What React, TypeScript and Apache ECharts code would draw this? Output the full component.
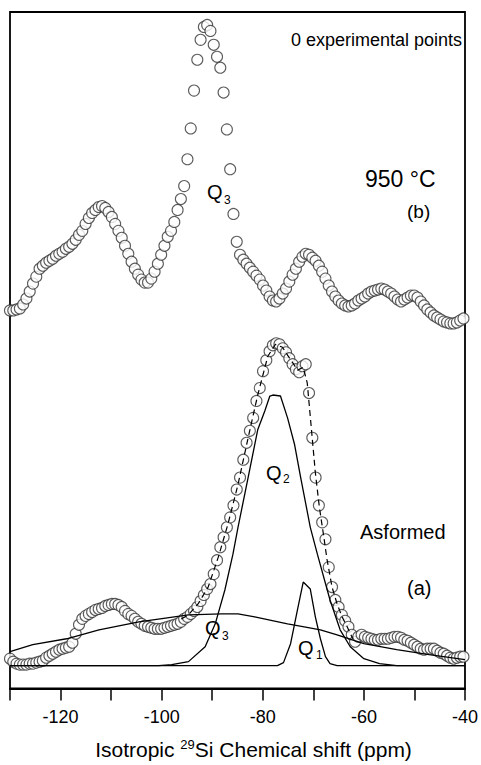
import { useEffect, useRef } from 'react';
import * as echarts from 'echarts';

// Chemical-shift grid of the measured points (ppm)
const scanStart = -130;
const scanStep = 0.65;

// 950 °C spectrum (b), arbitrary intensity units
const c950Counts = [
  380, 380, 381, 382, 386, 392, 399, 407, 414, 422,
  425, 428, 430, 432, 435, 437, 439, 442, 444, 447,
  451, 456, 460, 467, 473, 478, 481, 484, 485, 483,
  479, 474, 467, 460, 453, 445, 437, 429, 422, 416,
  411, 408, 408, 412, 419, 427, 436, 445, 454, 460,
  469, 481, 492, 505, 532, 563, 601, 632, 652, 665,
  667, 661, 647, 635, 624, 599, 562, 522, 477, 449,
  436, 431, 427, 423, 419, 415, 411, 405, 400, 394,
  390, 389, 392, 397, 402, 409, 416, 422, 429, 434,
  437, 436, 433, 430, 425, 419, 412, 405, 399, 394,
  390, 387, 385, 384, 385, 387, 390, 392, 394, 397,
  399, 400, 401, 402, 401, 399, 397, 394, 391, 389,
  391, 393, 395, 395, 393, 389, 385, 381, 378, 375,
  373, 371, 369, 368, 367, 367, 368, 370, 372,
];

// As-formed spectrum (a)
const asformedCounts = [
  30, 27, 25, 24, 24, 24, 25, 25, 26, 27,
  28, 31, 33, 35, 37, 39, 40, 41, 42, 46,
  55, 64, 70, 73, 75, 77, 79, 80, 81, 83,
  84, 85, 85, 84, 82, 78, 75, 73, 70, 67,
  65, 63, 62, 61, 60, 60, 60, 61, 62, 63,
  64, 65, 67, 70, 72, 75, 78, 82, 88, 94,
  100, 105, 115, 129, 142, 152, 162, 172, 184, 200,
  212, 230, 247, 259, 272, 289, 302, 319, 330, 339,
  345, 347, 346, 342, 338, 332, 326, 321, 318, 324,
  326, 297, 252, 212, 184, 167, 150, 122, 102, 89,
  82, 74, 68, 62, 54, 47, 52, 54, 52, 51,
  50, 49, 49, 50, 50, 50, 51, 52, 52, 51,
  49, 48, 46, 44, 42, 40, 39, 40, 40, 40,
  38, 36, 35, 33, 31, 30, 31, 32, 32,
];

// Total fit (dashed)
const fitShift = [-96.1, -94.7, -92.8, -90.8, -88.8, -86.9, -84.9, -82.9, -81.0, -79.0, -77.5, -76.1, -74.7, -73.1, -72.0, -71.2, -70.4, -69.6, -68.8, -68.0, -67.3, -66.3, -65.3, -64.3, -63.3, -62.2];
const fitValues = [70, 74, 85, 102, 132, 165, 205, 252, 295, 334, 346, 343, 332, 320, 323, 307, 262, 217, 182, 155, 130, 102, 85, 72, 62, 50];

// Q3 component (broad)
const q3Shift = [-130, -125.5, -118.8, -112.4, -104.5, -94.7, -88.2, -84.9, -81.6, -75.1, -71.8, -68.6, -65.3, -60.0, -53.5, -47.1, -40];
const q3Values = [37, 44, 50, 59, 67, 74, 75, 75, 72, 65, 62, 59, 54, 45, 39, 34, 29];

// Q2 component
const q2Shift = [-130, -100.6, -98.0, -94.7, -91.4, -89.4, -87.5, -85.9, -84.9, -82.9, -81.0, -79.6, -78.6, -78.0, -76.5, -75.1, -73.7, -72.5, -70.6, -69.2, -66.7, -64.7, -62.7, -60.0, -56.9, -53.5, -40];
const q2Values = [23, 23, 24, 27, 42, 65, 99, 135, 162, 212, 260, 279, 294, 295, 294, 272, 245, 212, 162, 135, 89, 59, 42, 30, 25, 23, 23];

// Q1 component
const q1Shift = [-130, -77.1, -75.9, -74.5, -73.1, -72.0, -70.6, -69.6, -68.6, -67.6, -66.7, -65.3, -40];
const q1Values = [23, 23, 26, 45, 80, 107, 100, 72, 50, 32, 25, 23, 23];

const FONT = '"Liberation Sans", Arial, Helvetica, sans-serif';

const pairs = (xs: number[], ys: number[]) => xs.map((x, i) => [x, ys[i]]);
const gridPairs = (ys: number[]) => ys.map((y, i) => [+(scanStart + scanStep * i).toFixed(2), y]);

const txt = (text: string, x: number, y: number, size: number, align = 'left') => ({
  type: 'text',
  x,
  y,
  silent: true,
  style: {
    text,
    x: 0,
    y: 0,
    fill: '#000',
    font: `${size}px ${FONT}`,
    align,
    textAlign: align,
    verticalAlign: 'middle',
    textVerticalAlign: 'middle',
  },
});

export default function App() {
  const ref = useRef<HTMLDivElement>(null);
  useEffect(() => {
    const chart = echarts.init(ref.current!, null, { renderer: 'svg' });
    const circleStyle = { color: '#fff', borderColor: '#333', borderWidth: 1.1 };
    const solid = { color: '#000', width: 1.3 };
    chart.setOption({
      animation: false,
      backgroundColor: '#fff',
      grid: { left: 10, right: 12, top: 12, bottom: 73, show: true, borderColor: '#000', borderWidth: 1.8 },
      xAxis: {
        type: 'value',
        min: -130,
        max: -40,
        interval: 10,
        splitLine: { show: false },
        axisLine: { lineStyle: { color: '#000', width: 1.8 } },
        axisTick: { inside: false, length: 12, lineStyle: { color: '#000', width: 1.5 } },
        axisLabel: {
          color: '#000',
          fontSize: 18,
          fontFamily: FONT,
          margin: 19,
          formatter: (v: number) => (Math.round(v) % 20 === 0 ? String(v) : ''),
        },
        name: '{a|Isotropic }{s|29}{a|Si Chemical shift (ppm)}',
        nameLocation: 'middle',
        nameGap: 49,
        nameTextStyle: {
          color: '#000',
          fontFamily: FONT,
          fontSize: 21,
          padding: [0, 0, 0, 32],
          rich: {
            a: { fontSize: 21, fontFamily: FONT, color: '#000', lineHeight: 24 },
            s: { fontSize: 13, fontFamily: FONT, color: '#000', verticalAlign: 'top', lineHeight: 14 },
          },
        },
      },
      yAxis: { type: 'value', min: 0, max: 680, show: false },
      series: [
        { type: 'scatter', data: gridPairs(c950Counts), symbol: 'circle', symbolSize: 11, itemStyle: circleStyle, z: 2, silent: true },
        { type: 'scatter', data: gridPairs(asformedCounts), symbol: 'circle', symbolSize: 11, itemStyle: circleStyle, z: 2, silent: true },
        { type: 'line', data: pairs(q3Shift, q3Values), showSymbol: false, lineStyle: solid, z: 3, silent: true },
        { type: 'line', data: pairs(q2Shift, q2Values), showSymbol: false, lineStyle: solid, z: 3, silent: true },
        { type: 'line', data: pairs(q1Shift, q1Values), showSymbol: false, lineStyle: solid, z: 3, silent: true },
        { type: 'line', data: pairs(fitShift, fitValues), showSymbol: false, lineStyle: { color: '#000', width: 1.2, type: [6, 4] }, z: 3, silent: true },
      ],
      graphic: [
        txt('0 experimental points', 462, 40, 18, 'right'),
        txt('950 °C', 365, 179, 23),
        txt('(b)', 407, 211, 19),
        txt('Q', 207, 192, 20),
        txt('3', 224, 200, 12),
        txt('Q', 266, 473, 20),
        txt('2', 283, 479, 12),
        txt('Asformed', 360, 532, 20),
        txt('(a)', 407, 588, 20),
        txt('Q', 205, 628, 20),
        txt('3', 222, 636, 12),
        txt('Q', 298, 648, 20),
        txt('1', 316, 655, 12),
      ],
    });
    return () => chart.dispose();
  }, []);
  return <div ref={ref} style={{ position: 'fixed', left: 0, top: 0, width: 481, height: 765, background: '#fff' }} />;
}
